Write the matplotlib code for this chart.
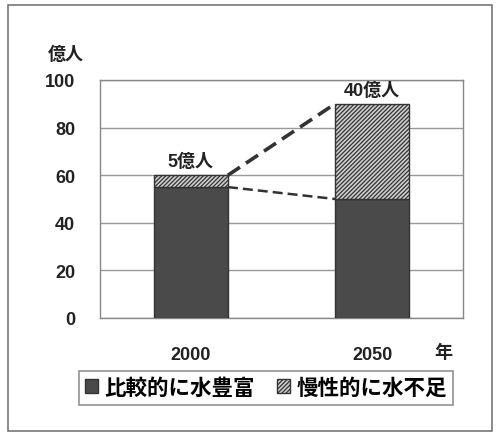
import matplotlib
matplotlib.use("Agg")
import matplotlib.pyplot as plt
from matplotlib.patches import Rectangle

plt.rcParams['font.family'] = ['Liberation Sans', 'Noto Sans CJK JP']
plt.rcParams['hatch.color'] = '#444444'
plt.rcParams['hatch.linewidth'] = 0.9

years = ['2000', '2050']
abundant = [55, 50]
shortage = [5, 40]
shortage_labels = ['5億人', '40億人']
yticks = [0, 20, 40, 60, 80, 100]

fig = plt.figure(figsize=(4.96, 4.35), dpi=100)
fig.patch.set_facecolor('white')
fig.add_artist(Rectangle((8/496, 1-432/435), 484/496, 426/435, transform=fig.transFigure,
                         fill=False, edgecolor='#777777', linewidth=1.2))

ax = fig.add_axes([100/496, 1-319/435, 363/496, 238/435])
x = list(range(len(years)))
w = 0.41
dark = '#4a4a4a'
ax.bar(x, abundant, width=w, color=dark, edgecolor='#333333', linewidth=1, zorder=3,
       label='比較的に水豊富')
ax.bar(x, shortage, width=w, bottom=abundant, color='#cfcfcf', edgecolor='#333333',
       hatch='////////', linewidth=1, zorder=3, label='慢性的に水不足')

tot = [a + s for a, s in zip(abundant, shortage)]
# connecting dashed lines
ax.plot([x[0] + w/2, x[1] - w/2], [tot[0], tot[1]], ls=(0, (4, 2)), color='#333333', lw=2.6, zorder=4)
ax.plot([x[0] + w/2, x[1] - w/2], [abundant[0], abundant[1]], ls=(0, (4, 2)), color='#333333', lw=1.8, zorder=4)

for xi, t, lab in zip(x, tot, shortage_labels):
    ax.text(xi, t + 2.0, lab, ha='center', va='bottom', fontsize=13, fontweight='bold', color='#222222', zorder=5)

ax.set_xlim(-0.5, 1.5)
ax.set_ylim(0, 100)
ax.set_yticks(yticks)
ax.set_xticks(x)
ax.set_xticklabels(years)
ax.tick_params(axis='both', length=0, labelsize=13, colors='#222222')
ax.tick_params(axis='x', pad=20)
ax.tick_params(axis='y', pad=18)
for lab in ax.get_xticklabels() + ax.get_yticklabels():
    lab.set_fontweight('bold')
ax.yaxis.grid(True, color='#999999', linewidth=1, zorder=0)
for s in ax.spines.values():
    s.set_color('#888888')
    s.set_linewidth(1)

fig.text(66/496, 1-55/435, '億人', ha='center', va='center', fontsize=13, fontweight='bold', color='#222222')
fig.text(443/496, 1-353/435, '年', ha='center', va='center', fontsize=13, fontweight='bold', color='#222222')

leg = fig.legend(loc='center', bbox_to_anchor=(266/496, 1-389/435), ncol=2, frameon=True,
                 fancybox=False, edgecolor='#777777', handlelength=0.6, handleheight=0.6,
                 handletextpad=0.3, columnspacing=1.0, borderpad=0.3, borderaxespad=0,
                 prop={'weight': 'bold', 'size': 15.5})
leg.get_frame().set_linewidth(1.2)

fig.savefig('out.png', dpi=100)
